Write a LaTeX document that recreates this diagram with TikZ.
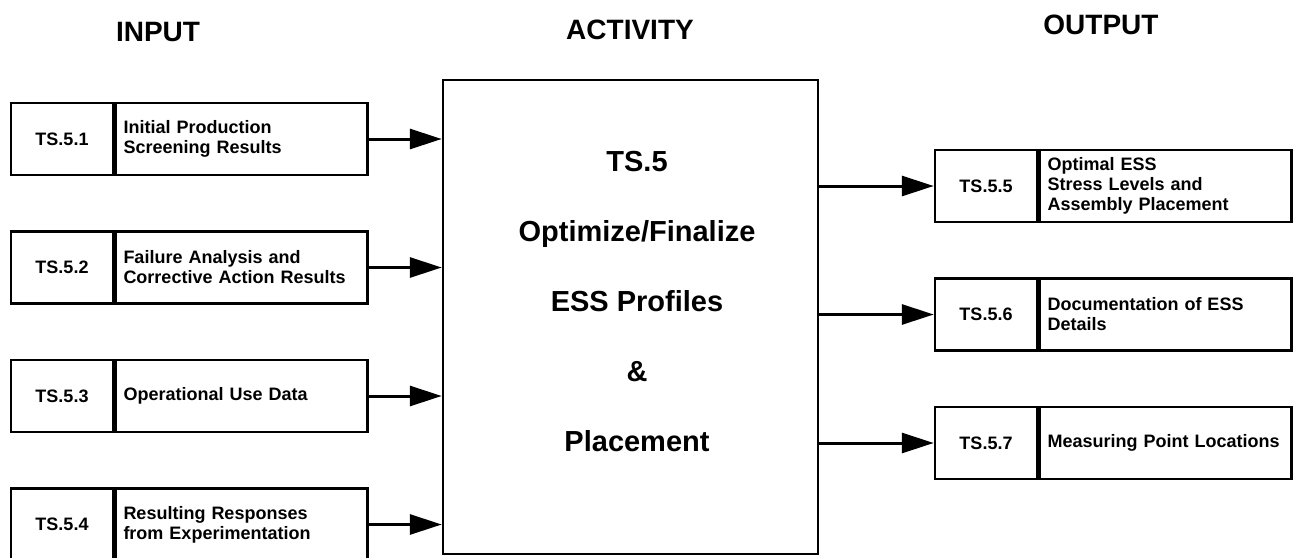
\documentclass[tikz,border=0pt]{standalone}
\usepackage{fontspec}
\setmainfont{Liberation Sans}
\usetikzlibrary{arrows.meta, positioning}

\begin{document}
\begin{tikzpicture}[
	x=1pt, y=-1pt,
	font=\bfseries\fontsize{18}{20}\selectfont,
	idbox/.style={
		draw,
		line width=2.5pt,
		minimum width=102pt,
		minimum height=72pt,
		inner sep=0pt
	},
	descbox/.style={
		draw,
		line width=2.5pt,
		align=left,
		text width=236pt,
		minimum height=72pt,
		inner xsep=8pt
	},
	actbox/.style={
		draw,
		line width=2.5pt,
		minimum width=375pt,
		minimum height=474pt
	},
	head/.style={font=\bfseries\fontsize{28}{30}\selectfont},
	big/.style={align=center, font=\bfseries\fontsize{29}{70}\selectfont},
	arr/.style={-{Triangle[length=32pt, width=20pt]}, line width=3pt},
	node distance=54pt
	]
	
	\useasboundingbox (0,0) rectangle (1293,557);
	
	% headings
	\node[head] (hin) at (158,32) {INPUT};
	\node[head] (hact) at (630,30) {ACTIVITY};
	\node[head] (hout) at (1101,25) {OUTPUT};
	
	% activity
	\node[actbox] (act) at (630.5,317) {};
	\node[big] (acttext) at (637,302) {TS.5\\Optimize/Finalize\\ESS Profiles\\\&\\Placement};
	
	% inputs
	\node[idbox] (i1) at (62,139) {TS.5.1};
	\node[descbox, right=0pt of i1] (d1) {Initial Production\\Screening Results};
	\node[idbox, below=of i1] (i2) {TS.5.2};
	\node[descbox, right=0pt of i2] (d2) {Failure Analysis and\\Corrective Action Results};
	\node[idbox, below=of i2] (i3) {TS.5.3};
	\node[descbox, right=0pt of i3] (d3) {Operational Use Data};
	\node[idbox, below=of i3] (i4) {TS.5.4};
	\node[descbox, right=0pt of i4] (d4) {Resulting Responses\\from Experimentation};
	
	% outputs
	\node[idbox] (i5) at (986,186) {TS.5.5};
	\node[descbox, right=0pt of i5] (d5) {Optimal ESS\\Stress Levels and\\Assembly Placement};
	\node[idbox, below=of i5] (i6) {TS.5.6};
	\node[descbox, right=0pt of i6] (d6) {Documentation of ESS\\Details};
	\node[idbox, below=of i6] (i7) {TS.5.7};
	\node[descbox, right=0pt of i7] (d7) {\mbox{Measuring Point Locations}};
	
	\draw[arr] (d1.east) -- (d1.east -| act.west);
	\draw[arr] (d2.east) -- (d2.east -| act.west);
	\draw[arr] (d3.east) -- (d3.east -| act.west);
	\draw[arr] (d4.east) -- (d4.east -| act.west);
	
	\draw[arr] (i5.west -| act.east) -- (i5.west);
	\draw[arr] (i6.west -| act.east) -- (i6.west);
	\draw[arr] (i7.west -| act.east) -- (i7.west);
	
\end{tikzpicture}
\end{document}
